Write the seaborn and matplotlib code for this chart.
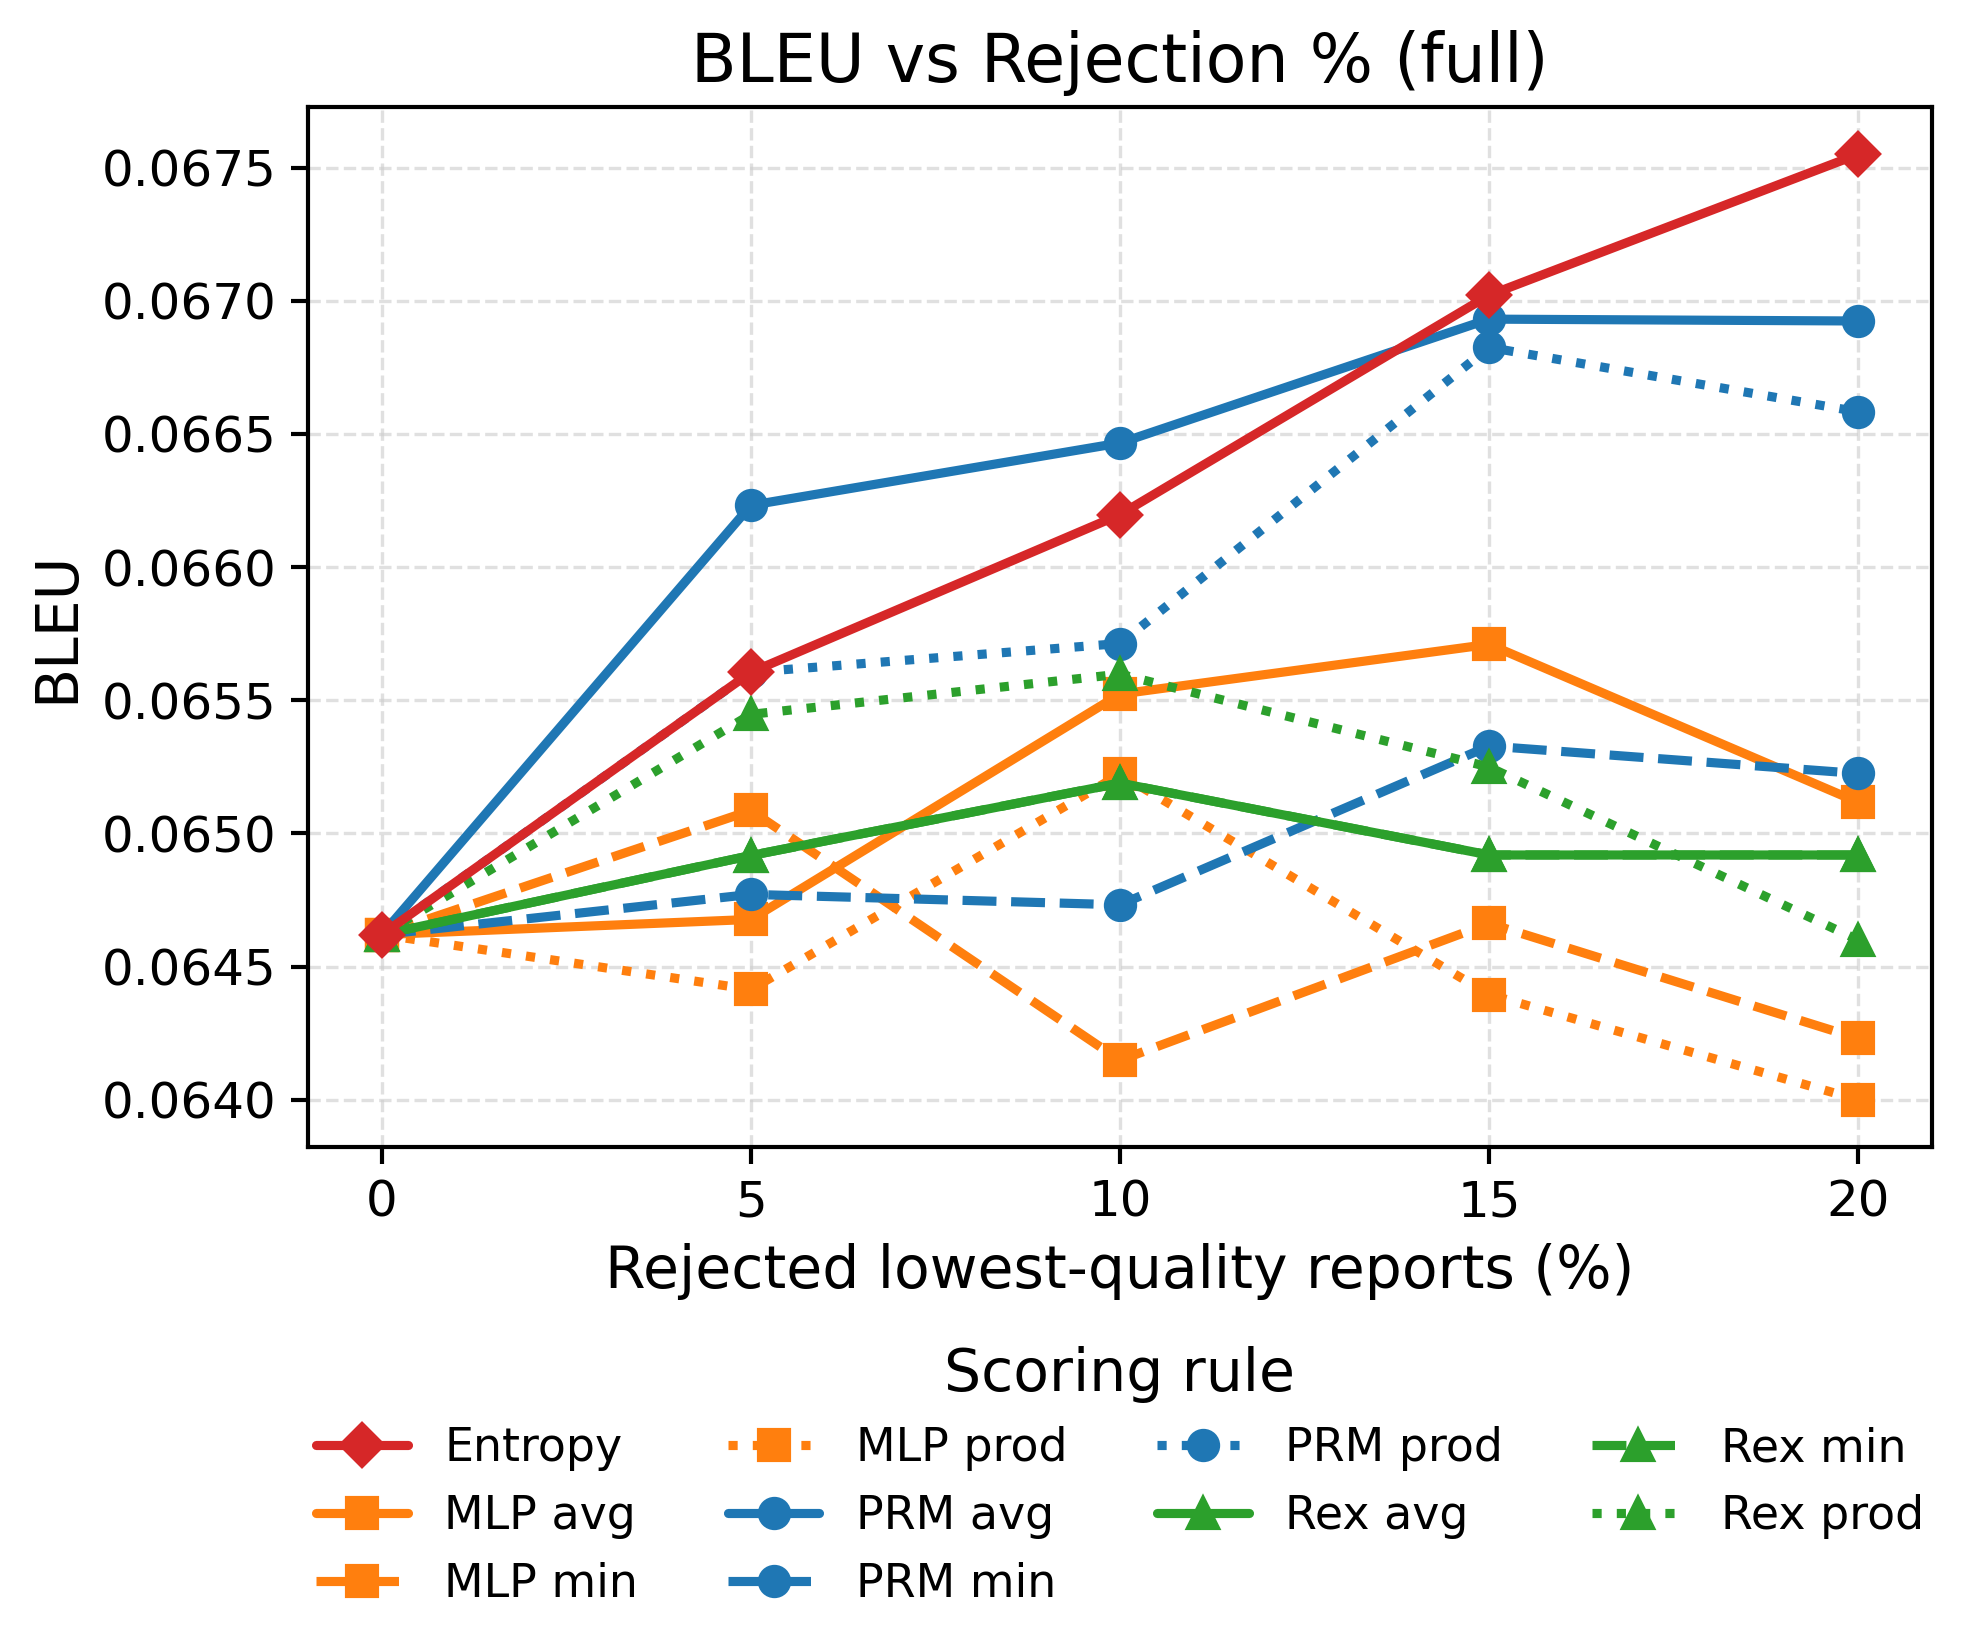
import matplotlib
matplotlib.use('Agg')
import matplotlib.pyplot as plt
import seaborn as sns
import pandas as pd

sns.set_style("white")
plt.rcParams['font.family'] = ['DejaVu Sans']
plt.rcParams['text.color'] = 'black'
plt.rcParams['axes.labelcolor'] = 'black'
plt.rcParams['xtick.color'] = 'black'
plt.rcParams['ytick.color'] = 'black'

# 数据
rejection = [0, 5, 10, 15, 20]
entropy = [0.06462, 0.065605, 0.066197, 0.067021, 0.06755]
mlp_avg = [0.06462, 0.064677, 0.065523, 0.06571, 0.065117]
mlp_min = [0.06462, 0.065086, 0.064148, 0.064662, 0.06423]
mlp_prod = [0.06462, 0.064414, 0.065222, 0.064395, 0.0640]
prm_avg = [0.06462, 0.066232, 0.066466, 0.066931, 0.066924]
prm_min = [0.06462, 0.064771, 0.064732, 0.065328, 0.065225]
prm_prod = [0.06462, 0.065605, 0.065713, 0.066825, 0.066583]
rex_avg = [0.06462, 0.064917, 0.065189, 0.064919, 0.064919]
rex_min = [0.06462, 0.064917, 0.065189, 0.064919, 0.064919]
rex_prod = [0.06462, 0.065447, 0.065598, 0.065249, 0.0646]

series = [
    ('Entropy', entropy, '#d62728', 'D', '-'),
    ('MLP avg', mlp_avg, '#ff7f0e', 's', '-'),
    ('MLP min', mlp_min, '#ff7f0e', 's', '--'),
    ('MLP prod', mlp_prod, '#ff7f0e', 's', ':'),
    ('PRM avg', prm_avg, '#1f77b4', 'o', '-'),
    ('PRM min', prm_min, '#1f77b4', 'o', '--'),
    ('PRM prod', prm_prod, '#1f77b4', 'o', ':'),
    ('Rex avg', rex_avg, '#2ca02c', '^', '-'),
    ('Rex min', rex_min, '#2ca02c', '^', '--'),
    ('Rex prod', rex_prod, '#2ca02c', '^', ':'),
]

fig = plt.figure(figsize=(1977 / 300, 1652 / 300), dpi=300)
ax = fig.add_axes([308 / 1977, 1 - 1147 / 1652, (1932 - 308) / 1977, (1147 - 107) / 1652])

for name, vals, color, marker, ls in series:
    df = pd.DataFrame({'x': rejection, 'y': vals})
    sns.lineplot(data=df, x='x', y='y', ax=ax, label=name, color=color,
                 marker=marker, linestyle=ls, linewidth=2.2, markersize=7,
                 markeredgewidth=1, markeredgecolor=color,
                 zorder=5 if name == 'Entropy' else 2)

ax.set_xticks(rejection)
ax.grid(True, linestyle='--', linewidth=0.8, color='#cccccc', alpha=0.6)
for s in ax.spines.values():
    s.set_color('black')
    s.set_linewidth(1.0)
ax.tick_params(axis='both', labelsize=12, length=4, width=1, left=True, bottom=True)
ax.set_title('BLEU vs Rejection % (full)', fontsize=16)
ax.set_xlabel('Rejected lowest-quality reports (%)', fontsize=14)
ax.set_ylabel('BLEU', fontsize=14)

ax.legend(title='Scoring rule', loc='upper center', bbox_to_anchor=(0.5, -0.152),
          ncol=4, frameon=False, fontsize=11, title_fontsize=14,
          labelspacing=0.5, columnspacing=1.95, handlelength=2.0, handletextpad=0.8)

plt.savefig('out.png', dpi=300)
